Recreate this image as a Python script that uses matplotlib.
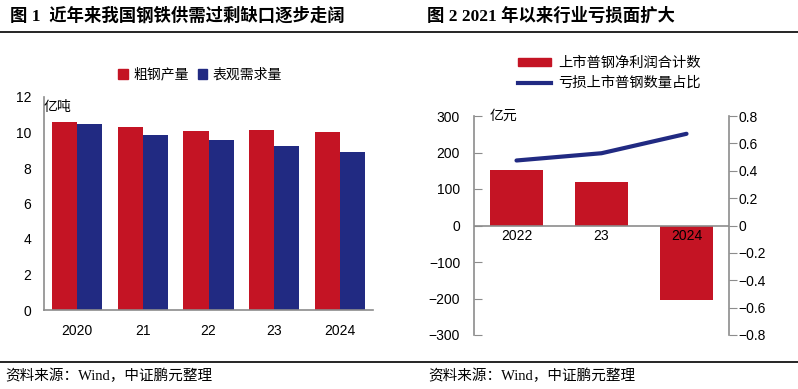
import matplotlib
matplotlib.use('Agg')
import matplotlib.pyplot as plt
from matplotlib.lines import Line2D
from matplotlib.patches import Patch
import numpy as np

plt.rcParams['font.family'] = ['Liberation Sans', 'Noto Sans CJK SC']
plt.rcParams['axes.unicode_minus'] = True

""" Data """
# 图1: 粗钢产量 vs 表观需求量 (亿吨)
years1 = ['2020', '21', '22', '23', '2024']
steel_output = [10.60, 10.32, 10.10, 10.14, 10.03]
steel_demand = [10.49, 9.86, 9.58, 9.24, 8.91]

# 图2: 上市普钢净利润合计数 (亿元) and 亏损占比
years2 = ['2022', '23', '2024']
net_profit = [151, 120, -205]
loss_share = [0.475, 0.528, 0.67]

red = '#C41424'
navy = '#212A82'
gray = '#8C8C8C'
serif = ['Liberation Serif', 'Noto Sans CJK SC']

fig = plt.figure(figsize=(7.98, 3.89), dpi=100)

# titles, rules and sources
fig.text(10/798, 1 - 16/389, '图 1  近年来我国钢铁供需过剩缺口逐步走阔', fontsize=12.5,
         fontweight='bold', family=serif, va='center', ha='left')
fig.text(427/798, 1 - 16/389, '图 2 2021 年以来行业亏损面扩大', fontsize=12.5,
         fontweight='bold', family=serif, va='center', ha='left')
fig.add_artist(Line2D([0, 1], [1 - 32/389, 1 - 32/389], color='black', lw=1.2))
fig.add_artist(Line2D([0, 1], [1 - 362/389, 1 - 362/389], color='black', lw=1.2))
fig.text(5/798, 1 - 376/389, '资料来源：Wind，中证鹏元整理', fontsize=10.5, family=serif,
         va='center', ha='left')
fig.text(428/798, 1 - 376/389, '资料来源：Wind，中证鹏元整理', fontsize=10.5, family=serif,
         va='center', ha='left')

""" Chart 1 """
ax1 = fig.add_axes([44/798, 79/389, 329/798, 213/389])
x1 = np.arange(len(years1))
w = 0.38
ax1.bar(x1 - w/2, steel_output, w, color=red)
ax1.bar(x1 + w/2, steel_demand, w, color=navy)
ax1.set_xlim(-0.5, len(years1) - 0.5)
ax1.set_ylim(0, 12)
ax1.set_yticks(range(0, 13, 2))
ax1.set_xticks(x1)
ax1.set_xticklabels(years1)
ax1.tick_params(axis='both', length=0, labelsize=10)
ax1.tick_params(axis='y', pad=9)
ax1.tick_params(axis='x', pad=10)
for s in ['top', 'right']:
    ax1.spines[s].set_visible(False)
for s in ['left', 'bottom']:
    ax1.spines[s].set_color(gray)
    ax1.spines[s].set_linewidth(1.2)
ax1.text(0.0, 11.85, '亿吨', fontsize=10, ha='left', va='top',
         transform=ax1.get_yaxis_transform())
ax1.legend(handles=[Patch(color=red, label='粗钢产量'), Patch(color=navy, label='表观需求量')],
           loc='center', bbox_to_anchor=(0.475, 1.105), ncol=2, frameon=False,
           fontsize=10, handlelength=0.7, handleheight=0.7, handletextpad=0.4,
           columnspacing=0.6)

""" Chart 2 """
ax2 = fig.add_axes([474/798, 54/389, 255/798, 219/389])
x2 = np.arange(len(years2))
ax2.bar(x2, net_profit, 0.62, color=red)
ax2.set_xlim(-0.5, len(years2) - 0.5)
ax2.set_ylim(-300, 300)
ax2.set_yticks(range(-300, 301, 100))
ax2.axhline(0, color=gray, lw=1.2)
ax2.set_xticks([])
for i, lab in enumerate(years2):
    ax2.text(x2[i], -10, lab, ha='center', va='top', fontsize=10)
ax2.tick_params(axis='y', direction='in', length=6, color=gray, labelsize=10, pad=10)
for s in ['top', 'right', 'bottom']:
    ax2.spines[s].set_visible(False)
ax2.spines['left'].set_color(gray)
ax2.spines['left'].set_linewidth(1.2)
ax2.text(0.06, 300, '亿元', fontsize=10, ha='left', va='center',
         transform=ax2.get_yaxis_transform())

ax3 = ax2.twinx()
ax3.plot(x2, loss_share, color=navy, lw=3, solid_capstyle='round')
ax3.set_ylim(-0.8, 0.8)
ax3.set_yticks(np.round(np.arange(-0.8, 0.81, 0.2), 1))
ax3.set_yticklabels(['0' if abs(v) < 1e-9 else ('%.1f' % v).replace('-', '\u2212')
                     for v in np.arange(-0.8, 0.81, 0.2)])
ax3.tick_params(axis='y', direction='out', length=6, color=gray, labelsize=10, pad=1)
for s in ['top', 'left', 'bottom']:
    ax3.spines[s].set_visible(False)
ax3.spines['right'].set_color(gray)
ax3.spines['right'].set_linewidth(1.2)

fig.legend(handles=[Patch(color=red, label='上市普钢净利润合计数'),
                    Line2D([], [], color=navy, lw=3, label='亏损上市普钢数量占比')],
           loc='center left', bbox_to_anchor=(505/798, 1 - 73/389), frameon=False,
           fontsize=10.3, handlelength=2.3, handleheight=0.5, handletextpad=0.5,
           labelspacing=0.45)

fig.savefig('out.png', dpi=100)
